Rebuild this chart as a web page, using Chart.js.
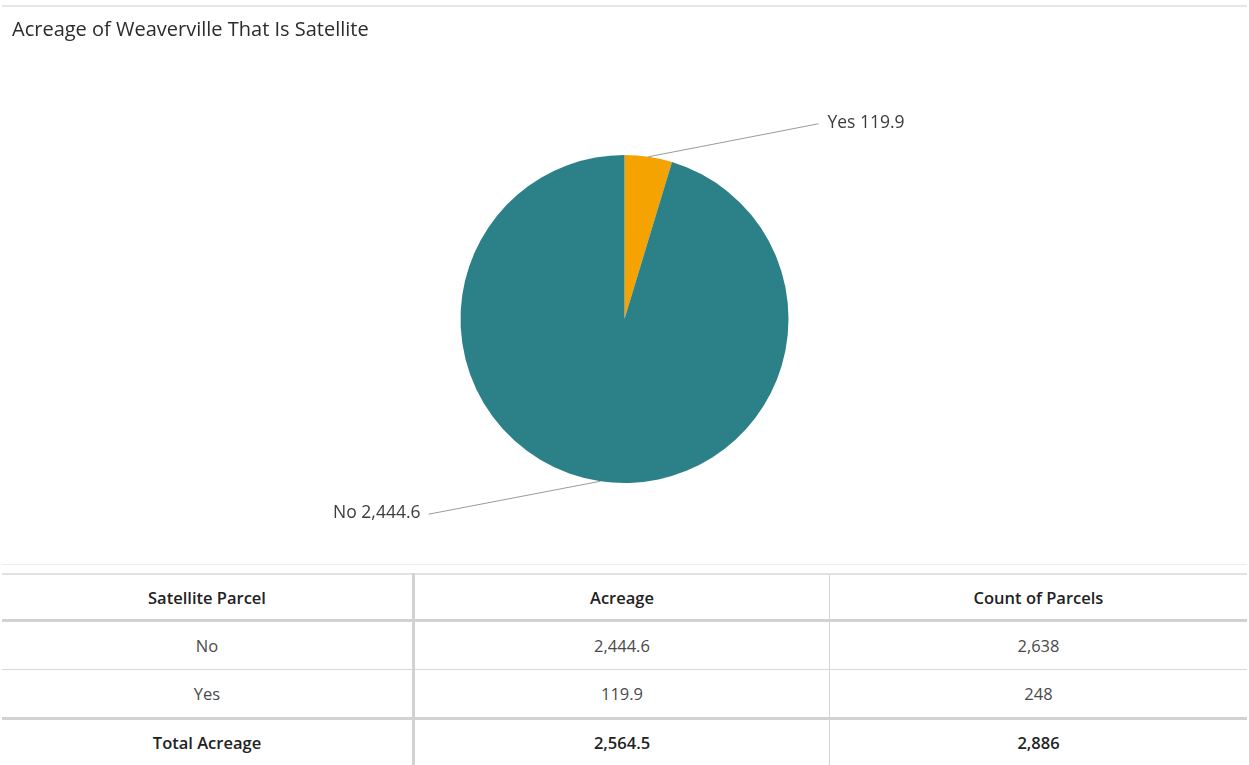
<!DOCTYPE html>
<html>
<head>
<meta charset="utf-8">
<script src="https://cdn.jsdelivr.net/npm/chart.js@4"></script>
<style>
  body { margin: 0; background: #fff; font-family: "Open Sans", Lato, sans-serif; width: 1249px; height: 765px; overflow: hidden; position: relative; }
  #card { position: absolute; left: 2px; top: 5px; width: 1245px; height: 560px; border-top: 2px solid #e6e6e6; border-bottom: 1px solid #ececec; box-sizing: border-box; }
  #title { position: absolute; left: 12px; top: 15px; font-size: 20px; color: #2c2c2c; }
  #chartBox { position: absolute; left: 2px; top: 5px; width: 1245px; height: 558px; }
  table { position: absolute; left: 2px; top: 573px; width: 1245px; border-collapse: collapse; font-size: 16.5px; color: #4a4a4a; }
  td, th { text-align: center; border-right: 1px solid #d4d4d4; padding: 0; }
  td:last-child, th:last-child { border-right: none; }
  th { height: 44px; font-weight: 600; color: #222; border-top: 2px solid #e2e2e2; border-bottom: 3px solid #d2d2d2; }
  tr.r td { height: 47px; border-bottom: 1px solid #d8d8d8; }
  tr.tot td { height: 45px; font-weight: 600; color: #222; border-top: 3px solid #d2d2d2; }
  th:first-child, td:first-child { width: 410px; border-right: 3px solid #d2d2d2; }
  th:nth-child(2), td:nth-child(2) { width: 414px; }
</style>
</head>
<body>
<div id="card"></div>
<div id="chartBox"><canvas id="pieChart"></canvas></div>
<div id="title">Acreage of Weaverville That Is Satellite</div>
<table id="tbl"></table>
<script>
const categories = ["Yes", "No"];
const acreage = [119.9, 2444.6];
const parcelCounts = [248, 2638];
const colors = ["#F5A300", "#2B8187"];
const tableOrder = ["No", "Yes"];

function fmt(v, d) {
  return v.toLocaleString("en-US", { minimumFractionDigits: d, maximumFractionDigits: d });
}

// leader lines + labels
const leaderLabels = {
  id: "leaderLabels",
  afterDatasetsDraw(chart) {
    const ctx = chart.ctx;
    const meta = chart.getDatasetMeta(0);
    meta.data.forEach((arc, i) => {
      const mid = (arc.startAngle + arc.endAngle) / 2;
      const x0 = arc.x + Math.cos(mid) * arc.outerRadius;
      const y0 = arc.y + Math.sin(mid) * arc.outerRadius;
      const right = Math.cos(mid) >= 0;
      const x1 = right ? x0 + 170 : x0 - 172;
      const y1 = right ? y0 - 33 : y0 + 33;
      ctx.save();
      ctx.strokeStyle = "#9a9a9a";
      ctx.lineWidth = 1;
      ctx.beginPath();
      ctx.moveTo(x0, y0);
      ctx.lineTo(x1, y1);
      ctx.stroke();
      ctx.fillStyle = "#3c3c3c";
      ctx.font = "17.5px 'Open Sans', Lato, sans-serif";
      ctx.textBaseline = "middle";
      ctx.textAlign = right ? "left" : "right";
      const txt = categories[i] + " " + fmt(acreage[i], 1);
      ctx.fillText(txt, right ? x1 + 9 : x1 - 8, y1 - 1);
      ctx.restore();
    });
  }
};

const ctx = document.getElementById("pieChart").getContext("2d");
new Chart(ctx, {
  type: "pie",
  data: {
    labels: categories,
    datasets: [{
      data: acreage,
      backgroundColor: colors,
      borderWidth: 0
    }]
  },
  options: {
    responsive: true,
    maintainAspectRatio: false,
    animation: false,
    layout: { padding: { top: 150, bottom: 80 } },
    plugins: { legend: { display: false }, tooltip: { enabled: false } }
  },
  plugins: [leaderLabels]
});

// table
const tbl = document.getElementById("tbl");
let html = "<tr><th>Satellite Parcel</th><th>Acreage</th><th>Count of Parcels</th></tr>";
tableOrder.forEach(c => {
  const i = categories.indexOf(c);
  html += `<tr class="r"><td>${c}</td><td>${fmt(acreage[i], 1)}</td><td>${fmt(parcelCounts[i], 0)}</td></tr>`;
});
const totA = acreage.reduce((a, b) => a + b, 0);
const totC = parcelCounts.reduce((a, b) => a + b, 0);
html += `<tr class="tot"><td>Total Acreage</td><td>${fmt(totA, 1)}</td><td>${fmt(totC, 0)}</td></tr>`;
tbl.innerHTML = html;
</script>
</body>
</html>
